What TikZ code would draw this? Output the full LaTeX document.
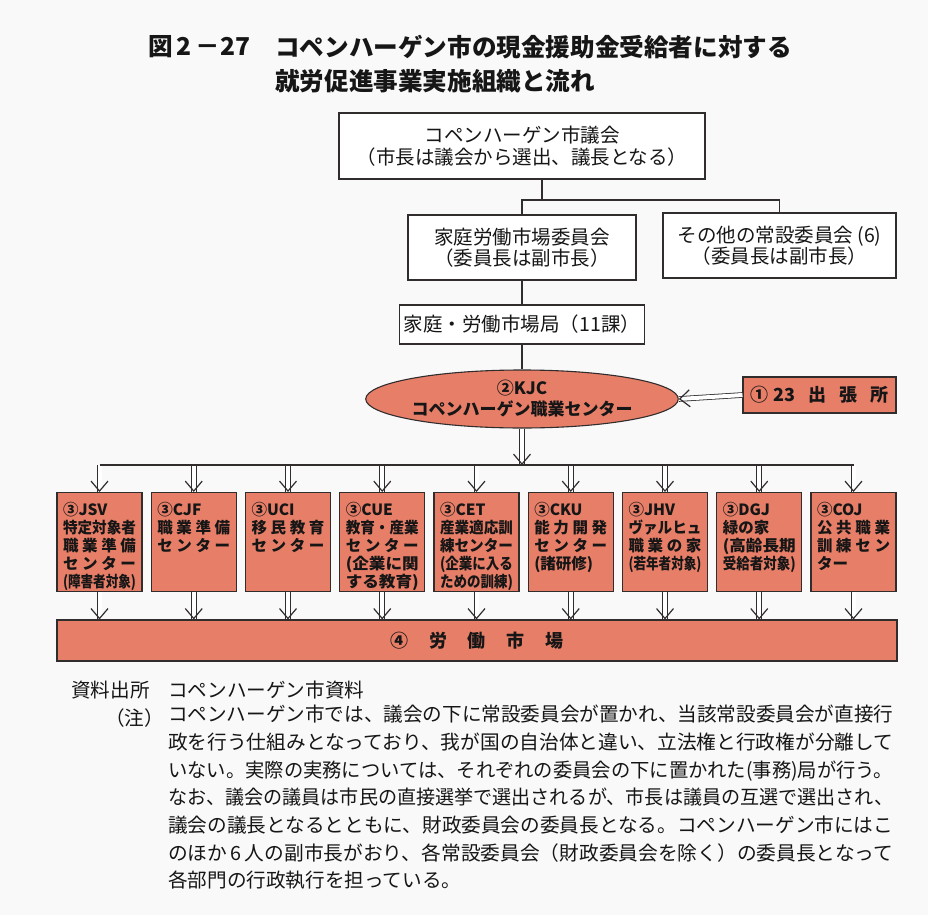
\documentclass[tikz,border=0pt]{standalone}
\usepackage{fontspec}
\usepackage{graphicx}
\setmainfont{Noto Sans CJK JP}
\usetikzlibrary{arrows.meta,shapes.geometric}
\definecolor{salmon}{RGB}{231,126,104}
\definecolor{linec}{RGB}{50,45,45}
\definecolor{bg}{RGB}{249,249,249}
\definecolor{txt}{RGB}{22,22,22}
\newcommand\fT{\fontsize{24.6pt}{28pt}\selectfont\bfseries}
\newcommand\fB{\fontsize{19.5pt}{21.5pt}\selectfont}
\newcommand\fC{\fontsize{15.5pt}{18pt}\selectfont\bfseries}
\newcommand\fD{\fontsize{18pt}{20pt}\selectfont\bfseries}
\newcommand\fE{\fontsize{17pt}{21pt}\selectfont\bfseries}
\newcommand\fN{\fontsize{19.6pt}{27.7pt}\selectfont}
\newcommand\sprd[1]{\makebox[73pt][s]{#1}}
\newcommand\fitl[1]{\resizebox{73pt}{\height}{#1}}
\newcommand\obody[1]{\parbox[t][86pt][t]{73pt}{\raggedright\rule{0pt}{16.5pt}#1}}
\newcommand\nline[1]{\resizebox{725pt}{\height}{#1}}
\begin{document}
\begin{tikzpicture}[x=1pt,y=-1pt,
  wbox/.style={draw=linec, line width=1.1pt, fill=white, align=center, inner sep=0pt, font=\fB, text=txt},
  obox/.style={draw=linec, line width=1.1pt, fill=salmon, inner xsep=6pt, inner ysep=6.5pt, anchor=north, font=\fC, text=txt},
  conn/.style={draw=linec, line width=1.1pt},
  dshaft/.style={draw=linec, line width=0.8pt, double=white, double distance=4pt},
  vtip/.style={draw=white, line width=0.1pt, -{Straight Barb[length=10pt,width=17pt,line width=1.2pt,color=linec]}},
  plain/.style={inner sep=0pt, text=txt}]
\path[fill=bg] (0,0) rectangle (928,915);
\useasboundingbox (0,0) rectangle (928,915);

% title
\node[plain, anchor=west, font=\fT] (tnum) at (148,47) {図\,2\,－27};
\node[plain, anchor=west, font=\fT] (t1) at (275,47) {コペンハーゲン市の現金援助金受給者に対する};
\node[plain, anchor=west, font=\fT] (t2) at (275,81) {就労促進事業実施組織と流れ};

% organisation
\node[wbox, minimum width=366pt, minimum height=66pt] (council) at (522,146) {コペンハーゲン市議会\\（市長は議会から選出、議長となる）};
\node[wbox, minimum width=228pt, minimum height=65pt] (comm) at (522,247.5) {家庭労働市場委員会\\（委員長は副市長）};
\node[wbox, minimum width=233pt, minimum height=65pt] (other) at (779.5,245.5) {その他の常設委員会 (6)\\（委員長は副市長）};
\node[wbox, minimum width=245pt, minimum height=39pt] (bureau) at (522,324.5) {家庭・労働市場局（11課）};
\node[ellipse, draw=linec, line width=1.1pt, fill=salmon, minimum width=310pt, minimum height=58pt, inner sep=0pt, align=center, font=\fE, text=txt] (kjc) at (522,399) {②KJC\\コペンハーゲン職業センター};
\node[draw=linec, line width=1.1pt, fill=salmon, minimum width=153pt, minimum height=36pt, inner sep=0pt, font=\fD, text=txt] (branch) at (819.5,395) {\makebox[138pt][l]{①\;23\hfill 出\hfill 張\hfill 所}};

% centres
\node[obox] (b1) at (99.5,492) {\obody{③JSV\\\fitl{特定対象者}\\\sprd{職 業 準 備}\\\sprd{セ ン タ ー}\\\fitl{(障害者対象)}}};
\node[obox] (b2) at (193.75,492) {\obody{③CJF\\\sprd{職 業 準 備}\\\sprd{セ ン タ ー}}};
\node[obox] (b3) at (288,492) {\obody{③UCI\\\sprd{移 民 教 育}\\\sprd{セ ン タ ー}}};
\node[obox] (b4) at (382.25,492) {\obody{③CUE\\\fitl{教育・産業}\\\sprd{セ ン タ ー}\\\fitl{(企業に関}\\\fitl{する教育)}}};
\node[obox] (b5) at (476.5,492) {\obody{③CET\\\fitl{産業適応訓}\\\fitl{練センター}\\\fitl{(企業に入る}\\\fitl{ための訓練)}}};
\node[obox] (b6) at (570.75,492) {\obody{③CKU\\\sprd{能 力 開 発}\\\sprd{セ ン タ ー}\\(諸研修)}};
\node[obox] (b7) at (665,492) {\obody{③JHV\\\fitl{ヴァルヒュ}\\\sprd{職 業 の 家}\\\fitl{(若年者対象)}}};
\node[obox] (b8) at (759.25,492) {\obody{③DGJ\\緑の家\\\fitl{(高齢長期}\\\fitl{受給者対象)}}};
\node[obox] (b9) at (853.5,492) {\obody{③COJ\\\sprd{公 共 職 業}\\\sprd{訓 練 セ ン}\\ター}};

\node[draw=linec, line width=1.1pt, fill=salmon, minimum width=840pt, minimum height=41pt, inner sep=0pt, font=\fD, text=txt] (market) at (477,640.5) {\makebox[173pt][s]{④ 労 働 市 場}};

% connectors
\coordinate (j1) at (542,200);
\coordinate (bus) at (522,465);
\draw[conn] (council.south -| j1) -- (j1);
\draw[conn] (comm.north) |- (other.north |- j1) -- (other.north);
\draw[conn] (comm.south) -- (bureau.north);
\draw[conn] (bureau.south) -- (kjc.north);
\draw[dshaft] (kjc.south) -- (bus);
\draw[vtip] (kjc.south) -- (bus);
\draw[dshaft] (branch.west) -- (kjc.east);
\draw[vtip] (branch.west) -- (kjc.east);
\foreach \i in {1,...,9} {
  \draw[dshaft] (b\i.north |- bus) -- (b\i.north);
  \draw[vtip] (b\i.north |- bus) -- (b\i.north);
  \draw[dshaft] (b\i.south) -- (b\i.south |- market.north);
  \draw[vtip] (b\i.south) -- (b\i.south |- market.north);
}
\draw[conn] (b1.north |- bus) -- (b9.north |- bus);

% notes
\node[plain, anchor=west, font=\fN] (src) at (71,690) {資料出所};
\node[plain, anchor=west, font=\fN] (srct) at (168,690) {コペンハーゲン市資料};
\node[plain, anchor=east, font=\fN] (nt) at (164,718) {（注）};
\node[plain, anchor=north west, align=left, font=\fN] (note) at (168,705) {%
\nline{コペンハーゲン市では、議会の下に常設委員会が置かれ、当該常設委員会が直接行}\\
\nline{政を行う仕組みとなっており、我が国の自治体と違い、立法権と行政権が分離して}\\
\nline{いない。実際の実務については、それぞれの委員会の下に置かれた(事務)局が行う。}\\
\nline{なお、議会の議員は市民の直接選挙で選出されるが、市長は議員の互選で選出され、}\\
\nline{議会の議長となるとともに、財政委員会の委員長となる。コペンハーゲン市にはこ}\\
\nline{のほか\,6\,人の副市長がおり、各常設委員会（財政委員会を除く）の委員長となって}\\
各部門の行政執行を担っている。};
\end{tikzpicture}
\end{document}
